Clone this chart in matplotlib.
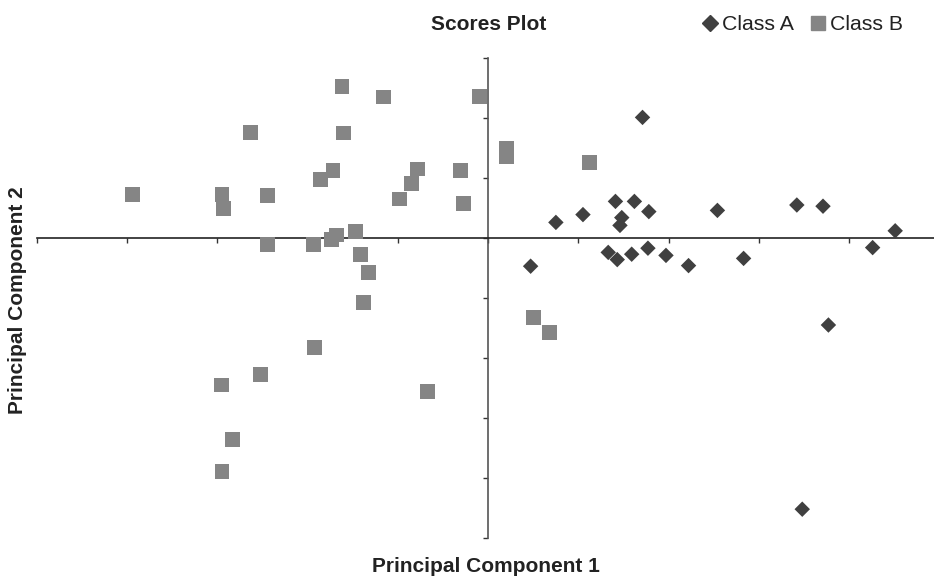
import matplotlib.pyplot as plt
from matplotlib.lines import Line2D

plt.rcParams['font.family'] = ['Liberation Sans', 'DejaVu Sans']

# scores, class A (diamonds)
a_pc1 = [1.71, 1.41, 1.62, 1.05, 0.75, 1.48, 1.46, 1.78, 2.54, 3.42, 3.71, 4.51,
         4.26, 0.47, 1.33, 1.43, 1.59, 1.77, 1.97, 2.22, 2.83, 3.77, 3.48]
a_pc2 = [2.01, 0.61, 0.61, 0.39, 0.26, 0.34, 0.21, 0.44, 0.46, 0.55, 0.53, 0.12,
         -0.16, -0.47, -0.24, -0.36, -0.27, -0.17, -0.29, -0.46, -0.34, -1.45, -4.52]

# scores, class B (squares)
b_pc1 = [-1.62, -1.16, -0.10, -2.63, -1.60, -1.72, -1.86, -0.78, -0.85, -0.98,
         -0.31, -0.27, -2.95, -2.93, -2.45, -1.68, -1.74, -1.47, -2.45, -1.94,
         -3.94, 0.20, 0.20, 1.12, 0.50, 0.68, -1.42, -1.33, -1.38, -1.92,
         -2.52, -2.96, -0.67, -2.83, -2.95]
b_pc2 = [2.53, 2.35, 2.36, 1.76, 1.75, 1.13, 0.97, 1.15, 0.91, 0.65,
         1.12, 0.58, 0.73, 0.49, 0.71, 0.05, -0.03, 0.11, -0.11, -0.11,
         0.73, 1.50, 1.35, 1.26, -1.32, -1.57, -0.28, -0.57, -1.07, -1.83,
         -2.28, -2.45, -2.56, -3.36, -3.89]

col_a = '#404040'
col_b = '#858585'

fig = plt.figure(figsize=(9.34, 5.8), dpi=100)
ax = fig.add_axes([37/934, 42/580, 897/934, 480/580])

ax.scatter(b_pc1, b_pc2, marker='s', s=115, color=col_b, edgecolors='none', zorder=3)
ax.scatter(a_pc1, a_pc2, marker='D', s=62, color=col_a, edgecolors='none', zorder=3)

ax.set_xlim(-5, 4.94)
ax.set_ylim(-5, 3)
ax.spines['left'].set_position(('data', 0))
ax.spines['bottom'].set_position(('data', 0))
ax.spines['top'].set_visible(False)
ax.spines['right'].set_visible(False)
ax.spines['left'].set_color('#555555')
ax.spines['bottom'].set_color('#222222')
ax.spines['left'].set_linewidth(1.2)
ax.spines['bottom'].set_linewidth(1.2)
ax.set_xticks(range(-5, 5))
ax.set_yticks(range(-5, 4))
ax.set_xticklabels([])
ax.set_yticklabels([])
ax.tick_params(direction='out', length=3.5, width=1, colors='#333333')

fig.text(489/934, 1 - 24/580, 'Scores Plot', ha='center', va='center',
         fontsize=15, fontweight='bold', color='#222222')
fig.text(486/934, 1 - 566/580, 'Principal Component 1', ha='center', va='center',
         fontsize=15, fontweight='bold', color='#222222')
fig.text(18/934, 1 - 300/580, 'Principal Component 2', ha='center', va='center',
         rotation=90, fontsize=15, fontweight='bold', color='#222222')

handles = [Line2D([], [], marker='D', color=col_a, linestyle='none', markersize=8),
           Line2D([], [], marker='s', color=col_b, linestyle='none', markersize=10)]
fig.legend(handles, ['Class A', 'Class B'], ncol=2, frameon=False, fontsize=15.3,
           loc='center', bbox_to_anchor=(803/934, 1 - 25/580),
           handlelength=0.7, handletextpad=0.2, columnspacing=0.8,
           borderpad=0, labelcolor='#222222')

fig.savefig('out.png', dpi=100)
